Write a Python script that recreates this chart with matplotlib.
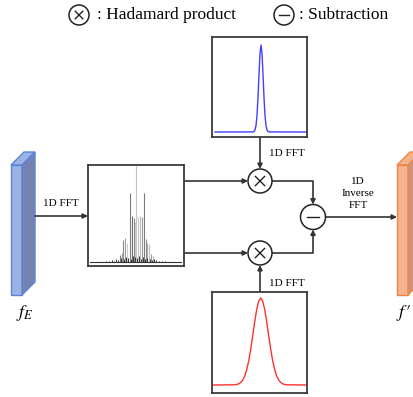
#recreate FFT filter diagram
import numpy as np
import matplotlib
matplotlib.use('Agg')
import matplotlib.pyplot as plt
from matplotlib.patches import Circle, Polygon

plt.rcParams['font.family'] = ['Liberation Serif', 'DejaVu Serif']
plt.rcParams['mathtext.fontset'] = 'stix'

#************************** data **************************
#spectrum spikes : offset (px from centre), height (px), gray level
spec_x = [0, -6.3, 7.3, -4.3, -2.7, -1.7, 2.0, 3.7, 5.3, -13, -11.3, -9.7, 9.3, 11, 12.7,
          -16.3, -14.7, 14.7, 16.3]
spec_h = [96, 69, 69, 46, 44, 40, 45, 46, 45, 22, 24, 19, 23, 19, 18, 7, 9, 8, 6]
spec_c = ['#c4c4c4', '#7a7a7a', '#7a7a7a', '#6e6e6e', '#8a8a8a', '#c8c8c8', '#c8c8c8',
          '#bdbdbd', '#9a9a9a', '#8c8c8c', '#9e9e9e', '#cfcfcf', '#8c8c8c', '#a8a8a8',
          '#c0c0c0', '#7a7a7a', '#9a9a9a', '#9a9a9a', '#b0b0b0']
#small noise near the base
noise_x = [-30, -27, -24, -22, -20, -18, -15.5, -12, -10.5, -8, -5, -3.5, -1, 1, 3, 4.5,
           6.5, 8.5, 10.5, 13.5, 15.5, 18, 20, 23, 26, 29]
noise_h = [1, 1.5, 2, 1.5, 3, 2.5, 4, 3, 5, 4, 3, 6, 5, 4, 6, 3, 5, 3, 4, 3, 2.5, 3, 2, 1.5, 1, 1]

#narrow gaussian (blue) and wide gaussian (red), read as samples
blue_x = [-46, -8, -7, -6, -5, -4, -3, -2, -1, 0, 1, 2, 3, 4, 5, 6, 7, 8, 45]
blue_y = [0, 0.001, 0.006, 0.024, 0.076, 0.191, 0.395, 0.662, 0.902, 1.0,
          0.902, 0.662, 0.395, 0.191, 0.076, 0.024, 0.006, 0.001, 0]
red_x = [-47, -26, -24, -22, -20, -18, -16, -14, -12, -10, -8, -6, -4, -2, 0,
         2, 4, 6, 8, 10, 12, 14, 16, 18, 20, 22, 24, 26, 45]
red_y = [0, 0.0025, 0.006, 0.0135, 0.029, 0.056, 0.103, 0.175, 0.278, 0.411, 0.566,
         0.726, 0.867, 0.965, 1.0, 0.965, 0.867, 0.726, 0.566, 0.411, 0.278, 0.175,
         0.103, 0.056, 0.029, 0.0135, 0.006, 0.0025, 0]

W, H = 414, 397
fig = plt.figure(figsize=(W/100, H/100), dpi=100)
ax = fig.add_axes([0, 0, 1, 1])
ax.set_xlim(0, W)
ax.set_ylim(H, 0)
ax.axis('off')

lc = '#333333'
fs = 8

def arrow(x0, y0, x1, y1):
    ax.annotate('', xy=(x1, y1), xytext=(x0, y0),
                arrowprops=dict(arrowstyle='-|>', mutation_scale=7, lw=1.2, color=lc,
                                shrinkA=0, shrinkB=0))

def line(xs, ys):
    ax.plot(xs, ys, color=lc, lw=1.2, solid_capstyle='butt')

def opcircle(x, y, r, kind, lw=1.1):
    ax.add_patch(Circle((x, y), r, fc='white', ec='#222222', lw=lw, zorder=3))
    d = r*0.38
    if kind == 'x':
        ax.plot([x-d, x+d], [y-d, y+d], color='#222222', lw=1.0, zorder=4)
        ax.plot([x-d, x+d], [y+d, y-d], color='#222222', lw=1.0, zorder=4)
    else:
        ax.plot([x-r*0.48, x+r*0.48], [y, y], color='#222222', lw=1.0, zorder=4)

def slab(x0, front, side, edge):
    #front face, top face, side face
    ax.add_patch(Polygon([(x0, 165), (x0+11, 165), (x0+11, 295), (x0, 295)],
                         fc=front, ec=edge, lw=1.0))
    ax.add_patch(Polygon([(x0, 165), (x0+11, 165), (x0+24, 152), (x0+13, 152)],
                         fc=front, ec=edge, lw=1.0))
    ax.add_patch(Polygon([(x0+11, 165), (x0+24, 152), (x0+24, 282), (x0+11, 295)],
                         fc=side, ec=edge, lw=1.0))

#legend row
opcircle(79, 15, 10, 'x')
ax.text(97, 15, ': Hadamard product', fontsize=12.5, va='center', ha='left')
opcircle(284, 15, 10, '-')
ax.text(299, 15, ': Subtraction', fontsize=12.5, va='center', ha='left')

#input / output
slab(11, '#9db3e4', '#7482b2', '#5b86d8')
slab(397, '#f5b28e', '#cc947e', '#ee8642')
ax.text(25, 313, r'$f_E$', fontsize=13, ha='center', va='center')
ax.text(404, 313, r"$f\,{\prime}$", fontsize=13, ha='center', va='center')

#connections
arrow(35, 216, 88, 216)
ax.text(61, 204, '1D FFT', fontsize=fs, ha='center', va='center')
arrow(184, 181, 248, 181)
arrow(184, 253, 248, 253)
arrow(260, 137, 260, 169)
ax.text(269, 154, '1D FFT', fontsize=fs, ha='left', va='center')
arrow(260, 292, 260, 265)
ax.text(269, 283, '1D FFT', fontsize=fs, ha='left', va='center')
line([272, 313], [181, 181])
arrow(313, 181, 313, 204.5)
line([272, 313], [253, 253])
arrow(313, 253, 313, 229.5)
arrow(325.5, 217, 397, 217)
for k, s in enumerate(['1D', 'Inverse', 'FFT']):
    ax.text(358, 181 + 12.5*k, s, fontsize=fs, ha='center', va='center')

opcircle(260, 181, 12, 'x')
opcircle(260, 253, 12, 'x')
opcircle(313, 217, 12.5, '-')

#**************************insets************************************
def inset(x, y, w, h):
    a = fig.add_axes([x/W, 1 - (y+h)/H, w/W, h/H])
    a.set_xticks([])
    a.set_yticks([])
    for sp in a.spines.values():
        sp.set_color('#3a3a3a')
        sp.set_linewidth(1.3)
    return a

a1 = inset(88, 165, 96, 101)
a1.vlines(spec_x, 0, spec_h, colors=spec_c, lw=0.8)
a1.vlines(noise_x, 0, noise_h, colors='#333333', lw=0.7)
a1.plot([-46, 45], [0, 0], color='#333333', lw=0.8)
a1.set_xlim(-48.3, 47.7)
a1.set_ylim(-4, 97)

a2 = inset(212, 37, 95, 100)
a2.plot(blue_x, blue_y, color='#4040ff', lw=1.0)
a2.set_xlim(-49, 46)
a2.set_ylim(-5/87, 1 + 8/87)

a3 = inset(212, 292, 95, 101)
a3.plot(red_x, red_y, color='#ff3030', lw=1.0)
a3.set_xlim(-48.7, 46.3)
a3.set_ylim(-8/87, 1 + 6/87)

plt.savefig('out.png', dpi=100)
